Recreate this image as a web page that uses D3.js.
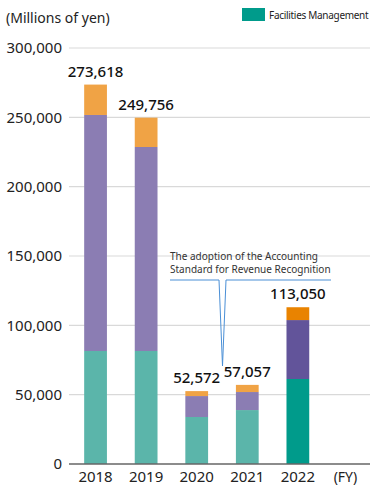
<!DOCTYPE html>
<html><head><meta charset="utf-8">
<script src="https://cdn.jsdelivr.net/npm/d3@7"></script>
<style>body{margin:0;background:#fff;}svg{display:block;font-family:"Noto Sans",sans-serif;}</style>
</head><body><svg id="c" width="377" height="488"></svg>
<script>
const years = ["2018","2019","2020","2021","2022"];
const seg1 = [81500, 81500, 33900, 38900, 61300];
const seg2 = [170200, 147100, 15100, 13000, 42500];
const totals = [273618, 249756, 52572, 57057, 113050];
const yTicks = [0, 50000, 100000, 150000, 200000, 250000, 300000];
const colorsOld = ["#5bb5aa", "#8b7db3", "#f0a345"];
const colorsNew = ["#009b8b", "#62549a", "#e98300"];

const svg = d3.select("#c");
const x = d3.scaleBand().domain([...years, "(FY)"]).range([69, 375]).paddingInner(0.55).paddingOuter(0.3);
const y = d3.scaleLinear().domain([0, 300000]).range([464, 48]);

// grid
svg.append("g").selectAll("line").data(yTicks.slice(1)).join("line")
  .attr("x1", 69).attr("x2", 370).attr("y1", d => y(d)).attr("y2", d => y(d))
  .attr("stroke", "#d9d9d9").attr("stroke-width", 1.2);

svg.append("g").selectAll("text").data(yTicks).join("text")
  .attr("x", 62).attr("y", d => y(d)).attr("dy", "0.35em").attr("text-anchor", "end")
  .attr("font-size", 15).attr("fill", "#222").text(d => d3.format(",")(d));

// bars
years.forEach((yr, i) => {
  const cols = yr === "2022" ? colorsNew : colorsOld;
  const a = seg1[i], b = seg1[i] + seg2[i], t = totals[i];
  const bx = x(yr), bw = x.bandwidth();
  svg.append("rect").attr("x", bx).attr("width", bw).attr("y", y(a)).attr("height", y(0) - y(a)).attr("fill", cols[0]);
  svg.append("rect").attr("x", bx).attr("width", bw).attr("y", y(b)).attr("height", y(a) - y(b)).attr("fill", cols[1]);
  svg.append("rect").attr("x", bx).attr("width", bw).attr("y", y(t)).attr("height", y(b) - y(t)).attr("fill", cols[2]);
  svg.append("text").attr("x", bx + bw / 2).attr("y", y(t) - 8).attr("text-anchor", "middle")
    .attr("font-size", 15).attr("font-weight", 500).attr("fill", "#111").text(d3.format(",")(t));
});

// baseline
svg.append("line").attr("x1", 69).attr("x2", 370).attr("y1", y(0)).attr("y2", y(0)).attr("stroke", "#666").attr("stroke-width", 1.5);

// x labels
svg.append("g").selectAll("text").data([...years, "(FY)"]).join("text")
  .attr("x", d => x(d) + x.bandwidth() / 2 + (d === "(FY)" ? -3 : 0)).attr("y", 482).attr("text-anchor", "middle")
  .attr("font-size", d => d === "(FY)" ? 14 : 15).attr("fill", "#222").text(d => d);

// title
svg.append("text").attr("x", 6).attr("y", 23).attr("font-size", 14).attr("fill", "#222").text("(Millions of yen)");

// legend
svg.append("rect").attr("x", 242).attr("y", 8).attr("width", 23).attr("height", 13).attr("fill", colorsNew[0]);
svg.append("text").attr("x", 269).attr("y", 18.5).attr("font-size", 10).attr("letter-spacing", -0.3)
  .attr("fill", "#222").text("Facilities Management");

// annotation
svg.append("text").attr("x", 170).attr("y", 260).attr("font-size", 10).attr("fill", "#333").text("The adoption of the Accounting");
svg.append("text").attr("x", 170).attr("y", 273).attr("font-size", 10).attr("fill", "#333").text("Standard for Revenue Recognition");
svg.append("path").attr("d", "M170,280 H219 L222.5,366 L226,280 H331").attr("fill", "none").attr("stroke", "#4a8fd6").attr("stroke-width", 1);
</script></body></html>
